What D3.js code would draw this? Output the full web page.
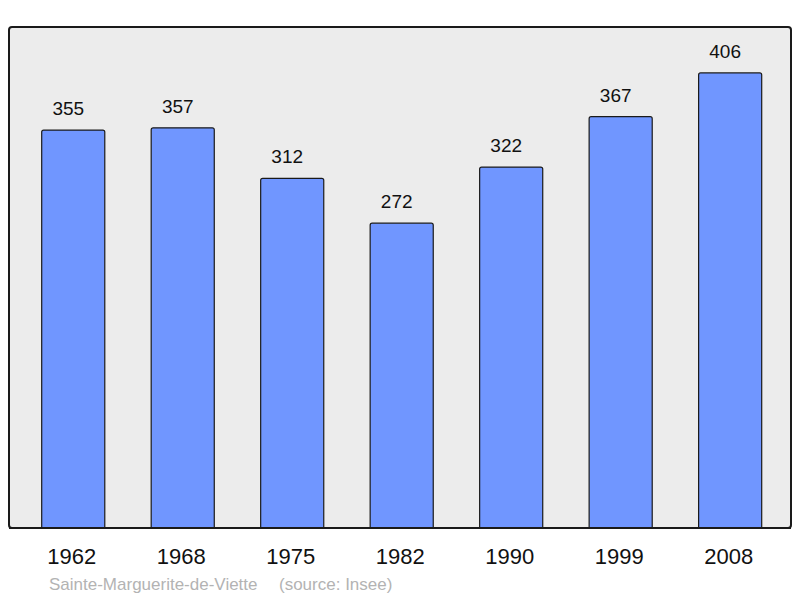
<!DOCTYPE html>
<html><head><meta charset="utf-8">
<script src="https://cdn.jsdelivr.net/npm/d3@7"></script>
<style>html,body{margin:0;padding:0;background:#fff;}svg{display:block;}</style>
</head><body>
<script>
const years = ["1962","1968","1975","1982","1990","1999","2008"];
const population = [355, 357, 312, 272, 322, 367, 406];
const commune = "Sainte-Marguerite-de-Viette";
const source = "(source: Insee)";

const W = 800, H = 598;
const svg = d3.select("body").append("svg").attr("width", W).attr("height", H);

const panel = {x0: 9, y0: 27, x1: 791, y1: 528};
svg.append("rect")
  .attr("x", panel.x0).attr("y", panel.y0)
  .attr("width", panel.x1 - panel.x0).attr("height", panel.y1 - panel.y0)
  .attr("rx", 3).attr("ry", 3)
  .attr("fill", "#ececec").attr("stroke", "#1a1a1a").attr("stroke-width", 2);

const x = d3.scaleBand().domain(years).range([41.7, 761.7]).paddingInner(0.4238).paddingOuter(0);
const y = d3.scaleLinear().domain([0, 447]).range([panel.y1, panel.y0]);

const data = years.map((yr, i) => ({year: yr, value: population[i]}));

svg.append("g").selectAll("path").data(data).join("path")
  .attr("d", d => {
    const x0 = x(d.year), x1 = x0 + x.bandwidth(), yt = y(d.value), yb = y(0), r = 2;
    return `M${x0},${yb}L${x0},${yt + r}Q${x0},${yt} ${x0 + r},${yt}L${x1 - r},${yt}Q${x1},${yt} ${x1},${yt + r}L${x1},${yb}Z`;
  })
  .attr("fill", "#7096ff").attr("stroke", "#1a1a1a").attr("stroke-width", 1.2);

svg.append("g").selectAll("text").data(data).join("text")
  .attr("x", d => x(d.year) + x.bandwidth() / 2 - 5)
  .attr("y", d => y(d.value) - 15)
  .attr("text-anchor", "middle")
  .attr("font-family", "Liberation Sans, Arial, sans-serif")
  .attr("font-size", 19).attr("fill", "#111")
  .text(d => d.value);

svg.append("line").attr("x1", panel.x0).attr("x2", panel.x1).attr("y1", panel.y1).attr("y2", panel.y1)
  .attr("stroke", "#1a1a1a").attr("stroke-width", 2);

const xAxis = d3.axisBottom(x).tickSize(0).tickPadding(0);
const gx = svg.append("g").attr("transform", `translate(-1.5,${panel.y1})`).call(xAxis);
gx.select(".domain").remove();
gx.selectAll("text")
  .attr("dy", null).attr("y", 36)
  .attr("font-family", "Liberation Sans, Arial, sans-serif")
  .attr("font-size", 22).attr("fill", "#111");

const foot = svg.append("g")
  .attr("font-family", "Liberation Sans, Arial, sans-serif")
  .attr("font-size", 17).attr("fill", "#b3b3b3");
foot.append("text").attr("x", 49).attr("y", 590).text(commune);
foot.append("text").attr("x", 279).attr("y", 590).text(source);
</script>
</body></html>
